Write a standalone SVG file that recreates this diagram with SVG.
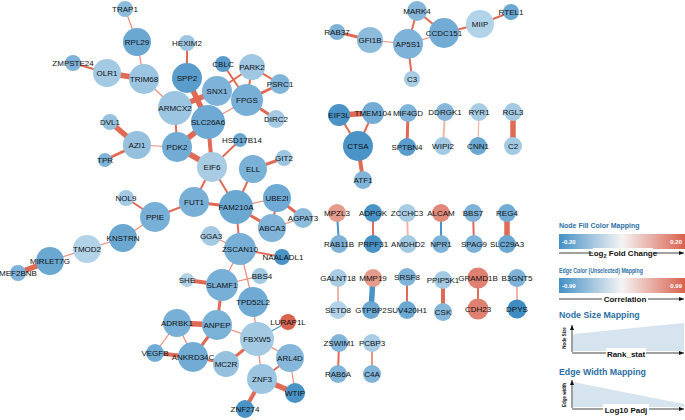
<svg xmlns="http://www.w3.org/2000/svg" width="685" height="420" viewBox="0 0 685 420">
<style>
text{font-family:"Liberation Sans",Arial,sans-serif;}
.lb{font-size:8px;fill:#111;text-anchor:middle;}
line.e{stroke:#e06a55;stroke-linecap:butt;}
.w1{stroke-width:1.2;stroke:#ea8a78 !important;}
.w2{stroke-width:2;}
.w3{stroke-width:3;}
.w4{stroke-width:4;}
.w5{stroke-width:5.5;}
.pk{stroke:#f1b4a8 !important;}
.bl{stroke:#4a93c6 !important;}
.lt{font-weight:bold;fill:#2d6fa6;}
.ax{font-size:8px;font-weight:bold;fill:#111;text-anchor:middle;}
.gl{font-size:6px;font-weight:bold;fill:#fff;}
.p circle{r:9;}
</style>
<defs>
<linearGradient id="gNode" x1="0" x2="1" y1="0" y2="0">
<stop offset="0" stop-color="#4590c6"/><stop offset="0.5" stop-color="#f4f4f4"/><stop offset="1" stop-color="#d9614d"/>
</linearGradient>
<linearGradient id="gEdge" x1="0" x2="1" y1="0" y2="0">
<stop offset="0" stop-color="#4590c6"/><stop offset="0.5" stop-color="#f4f4f4"/><stop offset="1" stop-color="#d9614d"/>
</linearGradient>
<marker id="arr" markerWidth="6" markerHeight="6" refX="5" refY="3" orient="auto" markerUnits="userSpaceOnUse">
<path d="M0,1 L5,3 L0,5 z" fill="#111"/>
</marker>
</defs>
<rect width="685" height="420" fill="#fff"/>
<g id="connectors">
<line class="e w1" x1="125" y1="9" x2="137" y2="42"/>
<line class="e w1" x1="137" y1="42" x2="144" y2="79"/>
<line class="e w2" x1="73" y1="63" x2="107" y2="73"/>
<line class="e w5" x1="107" y1="73" x2="144" y2="79"/>
<line class="e w1" x1="144" y1="79" x2="175" y2="108"/>
<line class="e w2" x1="187" y1="43" x2="187" y2="78"/>
<line class="e w5" x1="187" y1="78" x2="208" y2="122"/>
<line class="e w5" x1="217" y1="91" x2="175" y2="108"/>
<line class="e w2" x1="223" y1="64" x2="247" y2="100"/>
<line class="e w2" x1="252" y1="67" x2="217" y2="91"/>
<line class="e w2" x1="252" y1="67" x2="247" y2="100"/>
<line class="e w2" x1="252" y1="67" x2="280" y2="84"/>
<line class="e w3" x1="247" y1="100" x2="280" y2="84"/>
<line class="e w3" x1="247" y1="100" x2="276" y2="119"/>
<line class="e w1" x1="247" y1="100" x2="208" y2="122"/>
<line class="e w2" x1="175" y1="108" x2="177" y2="147"/>
<line class="e w5" x1="208" y1="122" x2="177" y2="147"/>
<line class="e w4" x1="208" y1="122" x2="212" y2="167"/>
<line class="e w2" x1="240" y1="140" x2="212" y2="167"/>
<line class="e w5" x1="177" y1="147" x2="212" y2="167"/>
<line class="e w1" x1="177" y1="147" x2="137" y2="145"/>
<line class="e w5" x1="137" y1="145" x2="110" y2="122"/>
<line class="e w3" x1="137" y1="145" x2="105" y2="160"/>
<line class="e w2" x1="212" y1="167" x2="194" y2="202"/>
<line class="e w2" x1="212" y1="167" x2="236" y2="207"/>
<line class="e w2" x1="253" y1="169" x2="236" y2="207"/>
<line class="e w3" x1="253" y1="169" x2="284" y2="158"/>
<line class="e w3" x1="194" y1="202" x2="236" y2="207"/>
<line class="e w2" x1="194" y1="202" x2="155" y2="217"/>
<line class="e w1" x1="236" y1="207" x2="277" y2="198"/>
<line class="e w3" x1="236" y1="207" x2="272" y2="228"/>
<line class="e w2" x1="236" y1="207" x2="240" y2="249"/>
<line class="e w3" x1="277" y1="198" x2="303" y2="218"/>
<line class="e w2" x1="277" y1="198" x2="272" y2="228"/>
<line class="e w1" x1="272" y1="228" x2="303" y2="218"/>
<line class="e w1" x1="211" y1="236" x2="240" y2="249"/>
<line class="e w2" x1="240" y1="249" x2="282" y2="257"/>
<line class="e w1" x1="240" y1="249" x2="222" y2="285"/>
<line class="e w1" x1="240" y1="249" x2="253" y2="302"/>
<line class="e w4" x1="187" y1="280" x2="222" y2="285"/>
<line class="e w1" x1="222" y1="285" x2="260" y2="276"/>
<line class="e w3" x1="222" y1="285" x2="217" y2="325"/>
<line class="e w1" x1="253" y1="302" x2="257" y2="339"/>
<line class="e w1 bl" x1="288" y1="322" x2="257" y2="339"/>
<line class="e w5" x1="177" y1="323" x2="217" y2="325"/>
<line class="e w1" x1="177" y1="323" x2="155" y2="353"/>
<line class="e w1" x1="177" y1="323" x2="193" y2="357"/>
<line class="e w3" x1="217" y1="325" x2="193" y2="357"/>
<line class="e w1" x1="217" y1="325" x2="257" y2="339"/>
<line class="e w4" x1="155" y1="353" x2="193" y2="357"/>
<line class="e w2" x1="193" y1="357" x2="226" y2="364"/>
<line class="e w3" x1="226" y1="364" x2="257" y2="339"/>
<line class="e w1" x1="257" y1="339" x2="290" y2="358"/>
<line class="e w1" x1="257" y1="339" x2="262" y2="379"/>
<line class="e w1" x1="290" y1="358" x2="295" y2="393"/>
<line class="e w2" x1="262" y1="379" x2="290" y2="358"/>
<line class="e w5" x1="262" y1="379" x2="295" y2="393"/>
<line class="e w4" x1="262" y1="379" x2="245" y2="409"/>
<line class="e w2" x1="126" y1="198" x2="155" y2="217"/>
<line class="e w1" x1="155" y1="217" x2="123" y2="238"/>
<line class="e w1" x1="123" y1="238" x2="87" y2="249"/>
<line class="e w1" x1="87" y1="249" x2="50" y2="261"/>
<line class="e w5" x1="50" y1="261" x2="18" y2="273"/>
<line class="e w3" x1="337" y1="32" x2="370" y2="40"/>
<line class="e w1" x1="370" y1="40" x2="408" y2="44"/>
<line class="e w2" x1="408" y1="44" x2="417" y2="11"/>
<line class="e w2" x1="417" y1="11" x2="444" y2="33"/>
<line class="e w1" x1="408" y1="44" x2="444" y2="33"/>
<line class="e w2" x1="408" y1="44" x2="412" y2="79"/>
<line class="e w2" x1="444" y1="33" x2="480" y2="24"/>
<line class="e w2" x1="480" y1="24" x2="511" y2="12"/>
<line class="e w5" x1="339" y1="115" x2="373" y2="113"/>
<line class="e w2" x1="339" y1="115" x2="358" y2="146"/>
<line class="e w2" x1="373" y1="113" x2="358" y2="146"/>
<line class="e w4" x1="358" y1="146" x2="363" y2="180"/>
<line class="e w3" x1="408" y1="113" x2="407" y2="147"/>
<line class="e w2 pk" x1="445" y1="112" x2="443" y2="146"/>
<line class="e w1 pk" x1="479" y1="112" x2="478" y2="146"/>
<line class="e w5" x1="513" y1="112" x2="513" y2="146"/>
<line class="e w2 bl" x1="337" y1="213" x2="339" y2="244"/>
<line class="e w2" x1="373" y1="213" x2="373" y2="244"/>
<line class="e w2 pk" x1="407" y1="213" x2="408" y2="244"/>
<line class="e w2 bl" x1="441" y1="213" x2="441" y2="244"/>
<line class="e w2" x1="473" y1="213" x2="474" y2="244"/>
<line class="e w5" x1="507" y1="213" x2="507" y2="244"/>
<line class="e w2 pk" x1="338" y1="278" x2="338" y2="310"/>
<line class="e w5 bl" x1="373" y1="278" x2="371" y2="310"/>
<line class="e w2" x1="407" y1="277" x2="407" y2="310"/>
<line class="e w4" x1="443" y1="280" x2="443" y2="312"/>
<line class="e w2" x1="478" y1="278" x2="478" y2="309"/>
<line class="e w2 pk" x1="517" y1="278" x2="517" y2="309"/>
<line class="e w2" x1="339" y1="343" x2="338" y2="374"/>
<line class="e w2" x1="372" y1="343" x2="372" y2="374" style="stroke:#ec9585"/>
</g>
<g id="n-TRAP1"><circle cx="125" cy="9" r="8" fill="#8dbbdc"/><text class="lb" x="125" y="12">TRAP1</text></g>
<g id="n-RPL29"><circle cx="137" cy="42" r="14" fill="#6aa8d2"/><text class="lb" x="137" y="45">RPL29</text></g>
<g id="n-ZMPSTE24"><circle cx="73" cy="63" r="8" fill="#7fb2d8"/><text class="lb" x="73" y="66">ZMPSTE24</text></g>
<g id="n-OLR1"><circle cx="107" cy="73" r="14" fill="#a3c9e3"/><text class="lb" x="107" y="76">OLR1</text></g>
<g id="n-TRIM68"><circle cx="144" cy="79" r="15" fill="#9cc5e1"/><text class="lb" x="144" y="82">TRIM68</text></g>
<g id="n-HEXIM2"><circle cx="187" cy="43" r="8" fill="#9cc5e1"/><text class="lb" x="187" y="46">HEXIM2</text></g>
<g id="n-SPP2"><circle cx="187" cy="78" r="15" fill="#5a9ccb"/><text class="lb" x="187" y="81">SPP2</text></g>
<g id="n-CBLC"><circle cx="223" cy="64" r="8" fill="#5a9ccb"/><text class="lb" x="223" y="67">CBLC</text></g>
<g id="n-PARK2"><circle cx="252" cy="67" r="13" fill="#9fc7e2"/><text class="lb" x="252" y="70">PARK2</text></g>
<g id="n-PSRC1"><circle cx="280" cy="84" r="10" fill="#80b4d8"/><text class="lb" x="280" y="87">PSRC1</text></g>
<g id="n-SNX1"><circle cx="217" cy="91" r="15" fill="#7fb2d8"/><text class="lb" x="217" y="94">SNX1</text></g>
<g id="n-FPGS"><circle cx="247" cy="100" r="16" fill="#78afd6"/><text class="lb" x="247" y="103">FPGS</text></g>
<g id="n-DIRC2"><circle cx="276" cy="119" r="9" fill="#a3c9e3"/><text class="lb" x="276" y="122">DIRC2</text></g>
<g id="n-ARMCX2"><circle cx="175" cy="108" r="17" fill="#9cc5e1"/><text class="lb" x="175" y="111">ARMCX2</text></g>
<g id="n-SLC26A6"><circle cx="208" cy="122" r="17" fill="#6eaad4"/><text class="lb" x="208" y="125">SLC26A6</text></g>
<g id="n-DVL1"><circle cx="110" cy="122" r="8" fill="#95c1df"/><text class="lb" x="110" y="125">DVL1</text></g>
<g id="n-AZI1"><circle cx="137" cy="145" r="14" fill="#95c1df"/><text class="lb" x="137" y="148">AZI1</text></g>
<g id="n-TPR"><circle cx="105" cy="160" r="7" fill="#7fb2d8"/><text class="lb" x="105" y="163">TPR</text></g>
<g id="n-PDK2"><circle cx="177" cy="147" r="15" fill="#72acd5"/><text class="lb" x="177" y="150">PDK2</text></g>
<g id="n-HSD17B14"><circle cx="240" cy="140" r="7" fill="#6aa8d2"/><text class="lb" x="242" y="143">HSD17B14</text></g>
<g id="n-EIF6"><circle cx="212" cy="167" r="15" fill="#a8cce4"/><text class="lb" x="212" y="170">EIF6</text></g>
<g id="n-ELL"><circle cx="253" cy="169" r="14" fill="#7ab1d7"/><text class="lb" x="253" y="172">ELL</text></g>
<g id="n-GIT2"><circle cx="284" cy="158" r="8" fill="#9cc5e1"/><text class="lb" x="284" y="161">GIT2</text></g>
<g id="n-NOL9"><circle cx="126" cy="198" r="8" fill="#a3c9e3"/><text class="lb" x="126" y="201">NOL9</text></g>
<g id="n-PPIE"><circle cx="155" cy="217" r="15" fill="#78afd6"/><text class="lb" x="155" y="220">PPIE</text></g>
<g id="n-FUT1"><circle cx="194" cy="202" r="15" fill="#78afd6"/><text class="lb" x="194" y="205">FUT1</text></g>
<g id="n-FAM210A"><circle cx="236" cy="207" r="17" fill="#6aa8d2"/><text class="lb" x="236" y="210">FAM210A</text></g>
<g id="n-UBE2I"><circle cx="277" cy="198" r="14" fill="#6eaad4"/><text class="lb" x="277" y="201">UBE2I</text></g>
<g id="n-AGPAT3"><circle cx="303" cy="218" r="10" fill="#8dbbdc"/><text class="lb" x="303" y="221">AGPAT3</text></g>
<g id="n-ABCA3"><circle cx="272" cy="228" r="14" fill="#80b4d8"/><text class="lb" x="272" y="231">ABCA3</text></g>
<g id="n-GGA3"><circle cx="211" cy="236" r="10" fill="#a3c9e3"/><text class="lb" x="211" y="239">GGA3</text></g>
<g id="n-ZSCAN10"><circle cx="240" cy="249" r="16" fill="#78afd6"/><text class="lb" x="240" y="252">ZSCAN10</text></g>
<g id="n-NAALADL1"><circle cx="282" cy="257" r="8" fill="#4a93c6"/><text class="lb" x="283" y="260">NAALADL1</text></g>
<g id="n-KNSTRN"><circle cx="123" cy="238" r="14" fill="#6aa8d2"/><text class="lb" x="123" y="241">KNSTRN</text></g>
<g id="n-TMOD2"><circle cx="87" cy="249" r="14" fill="#b2d2e8"/><text class="lb" x="87" y="252">TMOD2</text></g>
<g id="n-MIRLET7G"><circle cx="50" cy="261" r="14" fill="#6aa8d2"/><text class="lb" x="50" y="264">MIRLET7G</text></g>
<g id="n-MEF2BNB"><circle cx="18" cy="273" r="8" fill="#7fb2d8"/><text class="lb" x="18" y="276">MEF2BNB</text></g>
<g id="n-SHE"><circle cx="187" cy="280" r="7" fill="#b2d2e8"/><text class="lb" x="187" y="283">SHE</text></g>
<g id="n-SLAMF1"><circle cx="222" cy="285" r="16" fill="#78afd6"/><text class="lb" x="222" y="288">SLAMF1</text></g>
<g id="n-BBS4"><circle cx="260" cy="276" r="8" fill="#a3c9e3"/><text class="lb" x="262" y="279">BBS4</text></g>
<g id="n-TPD52L2"><circle cx="253" cy="302" r="15" fill="#6eaad4"/><text class="lb" x="253" y="305">TPD52L2</text></g>
<g id="n-LURAP1L"><circle cx="288" cy="322" r="8" fill="#d9644f"/><text class="lb" x="288" y="325">LURAP1L</text></g>
<g id="n-ADRBK1"><circle cx="177" cy="323" r="14" fill="#78afd6"/><text class="lb" x="177" y="326">ADRBK1</text></g>
<g id="n-ANPEP"><circle cx="217" cy="325" r="15" fill="#7ab1d7"/><text class="lb" x="217" y="328">ANPEP</text></g>
<g id="n-FBXW5"><circle cx="257" cy="339" r="17" fill="#a3c9e3"/><text class="lb" x="257" y="342">FBXW5</text></g>
<g id="n-VEGFB"><circle cx="155" cy="353" r="9" fill="#72acd5"/><text class="lb" x="155" y="356">VEGFB</text></g>
<g id="n-ANKRD34C"><circle cx="193" cy="357" r="15" fill="#72acd5"/><text class="lb" x="193" y="360">ANKRD34C</text></g>
<g id="n-MC2R"><circle cx="226" cy="364" r="13" fill="#95c1df"/><text class="lb" x="226" y="367">MC2R</text></g>
<g id="n-ARL4D"><circle cx="290" cy="358" r="14" fill="#86b7da"/><text class="lb" x="290" y="361">ARL4D</text></g>
<g id="n-ZNF3"><circle cx="262" cy="379" r="15" fill="#9cc5e1"/><text class="lb" x="262" y="382">ZNF3</text></g>
<g id="n-WTIP"><circle cx="295" cy="393" r="10" fill="#4a93c6"/><text class="lb" x="295" y="396">WTIP</text></g>
<g id="n-ZNF274"><circle cx="245" cy="409" r="9" fill="#4a93c6"/><text class="lb" x="245" y="412">ZNF274</text></g>
<g id="n-MARK4"><circle cx="417" cy="11" r="10" fill="#86b7da"/><text class="lb" x="417" y="14">MARK4</text></g>
<g id="n-RTEL1"><circle cx="511" cy="12" r="8" fill="#6aa8d2"/><text class="lb" x="511" y="15">RTEL1</text></g>
<g id="n-MIIP"><circle cx="480" cy="24" r="14" fill="#b2d2e8"/><text class="lb" x="480" y="27">MIIP</text></g>
<g id="n-RAB37"><circle cx="337" cy="32" r="8" fill="#7fb2d8"/><text class="lb" x="337" y="35">RAB37</text></g>
<g id="n-GFI1B"><circle cx="370" cy="40" r="13" fill="#8dbbdc"/><text class="lb" x="370" y="43">GFI1B</text></g>
<g id="n-AP5S1"><circle cx="408" cy="44" r="15" fill="#7fb2d8"/><text class="lb" x="408" y="47">AP5S1</text></g>
<g id="n-CCDC151"><circle cx="444" cy="33" r="15" fill="#72acd5"/><text class="lb" x="444" y="36">CCDC151</text></g>
<g id="n-C3"><circle cx="412" cy="79" r="8" fill="#a8cce4"/><text class="lb" x="412" y="82">C3</text></g>
<g id="n-EIF3L"><circle cx="339" cy="115" r="11" fill="#4a93c6"/><text class="lb" x="339" y="118">EIF3L</text></g>
<g id="n-TMEM104"><circle cx="373" cy="113" r="11" fill="#72acd5"/><text class="lb" x="373" y="116">TMEM104</text></g>
<g id="n-CTSA"><circle cx="358" cy="146" r="15" fill="#4a93c6"/><text class="lb" x="358" y="149">CTSA</text></g>
<g id="n-ATF1"><circle cx="363" cy="180" r="9" fill="#80b4d8"/><text class="lb" x="363" y="183">ATF1</text></g>
<g id="n-MIF4GD" class="p"><circle cx="408" cy="113" r="9" fill="#80b4d8"/><text class="lb" x="408" y="116">MIF4GD</text></g>
<g id="n-SPTBN4" class="p"><circle cx="407" cy="147" r="9" fill="#5a9ccb"/><text class="lb" x="407" y="150">SPTBN4</text></g>
<g id="n-DDRGK1" class="p"><circle cx="445" cy="112" r="9" fill="#86b7da"/><text class="lb" x="445" y="115">DDRGK1</text></g>
<g id="n-WIPI2" class="p"><circle cx="443" cy="146" r="9" fill="#a3c9e3"/><text class="lb" x="443" y="149">WIPI2</text></g>
<g id="n-RYR1" class="p"><circle cx="479" cy="112" r="9" fill="#a8cce4"/><text class="lb" x="479" y="115">RYR1</text></g>
<g id="n-CNN1" class="p"><circle cx="478" cy="146" r="9" fill="#6aa8d2"/><text class="lb" x="478" y="149">CNN1</text></g>
<g id="n-RGL3" class="p"><circle cx="513" cy="112" r="9" fill="#a3c9e3"/><text class="lb" x="513" y="115">RGL3</text></g>
<g id="n-C2" class="p"><circle cx="513" cy="146" r="9" fill="#a3c9e3"/><text class="lb" x="513" y="149">C2</text></g>
<g id="n-MPZL3" class="p"><circle cx="337" cy="213" r="9" fill="#e59a8b"/><text class="lb" x="337" y="216">MPZL3</text></g>
<g id="n-RAB11B" class="p"><circle cx="339" cy="244" r="9" fill="#7fb2d8"/><text class="lb" x="339" y="247">RAB11B</text></g>
<g id="n-ADPGK" class="p"><circle cx="373" cy="213" r="9" fill="#4a93c6"/><text class="lb" x="373" y="216">ADPGK</text></g>
<g id="n-PRPF31" class="p"><circle cx="373" cy="244" r="9" fill="#4a93c6"/><text class="lb" x="373" y="247">PRPF31</text></g>
<g id="n-ZCCHC3" class="p"><circle cx="407" cy="213" r="9" fill="#a8cce4"/><text class="lb" x="407" y="216">ZCCHC3</text></g>
<g id="n-AMDHD2" class="p"><circle cx="408" cy="244" r="9" fill="#a3c9e3"/><text class="lb" x="408" y="247">AMDHD2</text></g>
<g id="n-ALCAM" class="p"><circle cx="441" cy="213" r="9" fill="#e0887a"/><text class="lb" x="441" y="216">ALCAM</text></g>
<g id="n-NPR1" class="p"><circle cx="441" cy="244" r="9" fill="#7fb2d8"/><text class="lb" x="441" y="247">NPR1</text></g>
<g id="n-BBS7" class="p"><circle cx="473" cy="213" r="9" fill="#7fb2d8"/><text class="lb" x="473" y="216">BBS7</text></g>
<g id="n-SPAG9" class="p"><circle cx="474" cy="244" r="9" fill="#7fb2d8"/><text class="lb" x="474" y="247">SPAG9</text></g>
<g id="n-REG4" class="p"><circle cx="507" cy="213" r="9" fill="#72acd5"/><text class="lb" x="507" y="216">REG4</text></g>
<g id="n-SLC29A3" class="p"><circle cx="507" cy="244" r="9" fill="#6aa8d2"/><text class="lb" x="507" y="247">SLC29A3</text></g>
<g id="n-GALNT18" class="p"><circle cx="338" cy="278" r="9" fill="#a8cce4"/><text class="lb" x="338" y="281">GALNT18</text></g>
<g id="n-SETD8" class="p"><circle cx="338" cy="310" r="9" fill="#b2d2e8"/><text class="lb" x="338" y="313">SETD8</text></g>
<g id="n-MMP19" class="p"><circle cx="373" cy="278" r="9" fill="#e59a8b"/><text class="lb" x="373" y="281">MMP19</text></g>
<g id="n-GTPBP2" class="p"><circle cx="371" cy="310" r="9" fill="#6aa8d2"/><text class="lb" x="371" y="313">GTPBP2</text></g>
<g id="n-SRSF8" class="p"><circle cx="407" cy="277" r="9" fill="#7fb2d8"/><text class="lb" x="407" y="280">SRSF8</text></g>
<g id="n-SUV420H1" class="p"><circle cx="407" cy="310" r="9" fill="#6aa8d2"/><text class="lb" x="407" y="313">SUV420H1</text></g>
<g id="n-PPIP5K1" class="p"><circle cx="443" cy="280" r="9" fill="#a3c9e3"/><text class="lb" x="443" y="283">PPIP5K1</text></g>
<g id="n-CSK" class="p"><circle cx="443" cy="312" r="9" fill="#86b7da"/><text class="lb" x="443" y="315">CSK</text></g>
<g id="n-GRAMD1B"><circle cx="478" cy="278" r="10.5" fill="#e08070"/><text class="lb" x="478" y="281">GRAMD1B</text></g>
<g id="n-CDH23"><circle cx="478" cy="309" r="10.5" fill="#e08070"/><text class="lb" x="478" y="312">CDH23</text></g>
<g id="n-B3GNT5" class="p"><circle cx="517" cy="278" r="9" fill="#7fb2d8"/><text class="lb" x="517" y="281">B3GNT5</text></g>
<g id="n-DPYS"><circle cx="517" cy="309" r="9.5" fill="#3f8cc3"/><text class="lb" x="517" y="312">DPYS</text></g>
<g id="n-ZSWIM1" class="p"><circle cx="339" cy="343" r="9" fill="#80b4d8"/><text class="lb" x="339" y="346">ZSWIM1</text></g>
<g id="n-RAB6A" class="p"><circle cx="338" cy="374" r="9" fill="#80b4d8"/><text class="lb" x="338" y="377">RAB6A</text></g>
<g id="n-PCBP3" class="p"><circle cx="372" cy="343" r="9" fill="#a8cce4"/><text class="lb" x="372" y="346">PCBP3</text></g>
<g id="n-C4A" class="p"><circle cx="372" cy="374" r="9" fill="#80b4d8"/><text class="lb" x="372" y="377">C4A</text></g>
<g id="legend">
<text class="lt" x="559" y="228" font-size="7">Node Fill Color Mapping</text>
<rect x="559" y="234" width="126" height="15" fill="url(#gNode)"/>
<text class="gl" x="562" y="243.5">-0.20</text>
<text class="gl" x="682" y="243.5" text-anchor="end">0.20</text>
<line x1="559" y1="253" x2="684" y2="253" stroke="#111" stroke-width="0.8" marker-end="url(#arr)"/>
<rect x="593" y="248" width="60" height="10" fill="#fff"/>
<text class="ax" x="623" y="256">Log<tspan font-size="5.5" dy="1.5">2</tspan><tspan dy="-1.5"> Fold Change</tspan></text>
<text class="lt" x="559" y="273" font-size="7" textLength="84" lengthAdjust="spacingAndGlyphs">Edge Color (Unselected) Mapping</text>
<rect x="559" y="278" width="126" height="15" fill="url(#gEdge)"/>
<text class="gl" x="562" y="287.5">-0.99</text>
<text class="gl" x="682" y="287.5" text-anchor="end">0.99</text>
<line x1="559" y1="299" x2="684" y2="299" stroke="#111" stroke-width="0.8" marker-end="url(#arr)"/>
<rect x="602" y="294" width="46" height="10" fill="#fff"/>
<text class="ax" x="625" y="302">Correlation</text>
<text class="lt" x="559" y="318" font-size="8.8">Node Size Mapping</text>
<polygon points="573,334 684,323 684,351 573,351" fill="#d6e4ef"/>
<line x1="572" y1="352" x2="572" y2="325" stroke="#111" stroke-width="0.8" marker-end="url(#arr)"/>
<line x1="572" y1="353" x2="684" y2="353" stroke="#111" stroke-width="0.8" marker-end="url(#arr)"/>
<rect x="606" y="348" width="40" height="10" fill="#fff"/>
<text class="ax" x="626" y="356.5">Rank_stat</text>
<text x="566" y="338" font-size="4.5" font-weight="bold" fill="#111" text-anchor="middle" transform="rotate(-90 566 338)">Node Size</text>
<text class="lt" x="559" y="375" font-size="8.8">Edge Width Mapping</text>
<polygon points="573,382 684,404 684,407 573,407" fill="#d6e4ef"/>
<line x1="572" y1="408" x2="572" y2="380" stroke="#111" stroke-width="0.8" marker-end="url(#arr)"/>
<line x1="572" y1="409" x2="684" y2="409" stroke="#111" stroke-width="0.8" marker-end="url(#arr)"/>
<rect x="603" y="404" width="46" height="10" fill="#fff"/>
<text class="ax" x="626" y="412.5">Log10 Padj</text>
<text x="566" y="395" font-size="4.5" font-weight="bold" fill="#111" text-anchor="middle" transform="rotate(-90 566 395)">Edge width</text>
</g>
</svg>
